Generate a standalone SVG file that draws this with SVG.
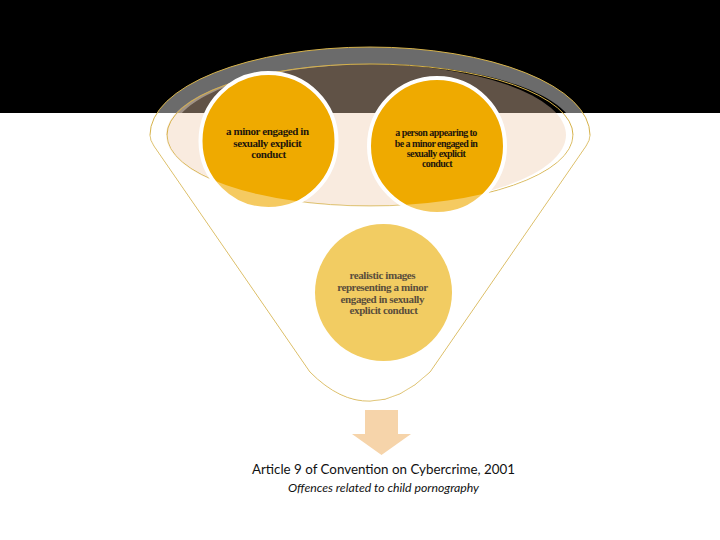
<svg xmlns="http://www.w3.org/2000/svg" width="720" height="540" viewBox="0 0 720 540">
  <style>
    .outline { fill: none; stroke: #D6B24A; stroke-width: 1; }
    .circ { fill: #EFAA00; stroke: #FFFFFF; stroke-width: 4; }
    .lbl { font-family: "Liberation Serif", "Times New Roman", serif; font-weight: bold; text-anchor: middle; fill: #1E160C; }
    .cap { font-family: Lato, "Open Sans", "Liberation Sans", sans-serif; text-anchor: start; fill: #111111; }
  </style>
  <rect x="0" y="0" width="720" height="540" fill="#FFFFFF"/>
  <rect x="0" y="0" width="720" height="113" fill="#000000"/>

  <g id="funnel">
    <path fill="#FFFFFF" fill-opacity="0.42" fill-rule="evenodd"
      d="M150,135 A220,88 0 0 1 590,135 Q590,140 586,146 L430,372 Q400,401 370,401 Q340,402 310,372 L154,146 Q150,140 150,135 Z
         M172,135 A202,71 0 0 1 576,135 A202,71 0 0 1 172,135 Z"/>
    <ellipse cx="366" cy="135" rx="200" ry="71" fill="#F0CDAF" fill-opacity="0.4"/>
    <path class="outline" d="M150,135 A220,88 0 0 1 590,135 Q590,140 586,146 L430,372 Q400,401 370,401 Q340,402 310,372 L154,146 Q150,140 150,135 Z"/>
    <ellipse class="outline" cx="370" cy="135" rx="203" ry="71"/>
  </g>

  <g id="node-minor">
    <circle class="circ" cx="268.5" cy="141" r="68"/>
    <text class="lbl" font-size="11" letter-spacing="-0.4">
      <tspan x="268.5" y="135">a minor engaged in</tspan>
      <tspan x="268.5" y="146.5">sexually explicit</tspan>
      <tspan x="268.5" y="157.5">conduct</tspan>
    </text>
  </g>

  <g id="node-person">
    <circle class="circ" cx="437" cy="146" r="68"/>
    <text class="lbl" font-size="10" letter-spacing="-0.55">
      <tspan x="437" y="136">a person appearing to</tspan>
      <tspan x="437" y="146.5">be a minor engaged in</tspan>
      <tspan x="437" y="157">sexually explicit</tspan>
      <tspan x="437" y="167">conduct</tspan>
    </text>
  </g>

  <g id="funnel-front">
    <path fill="#FFFFFF" fill-opacity="0.38"
      d="M150,135 L167,135 A203,71 0 0 0 573,135 L590,135 Q590,140 586,146 L430,372 Q400,401 370,401 Q340,402 310,372 L154,146 Q150,140 150,135 Z"/>
  </g>

  <g id="node-realistic">
    <circle cx="383.5" cy="292.5" r="68.5" fill="#F2CC62"/>
    <text class="lbl" font-size="11" letter-spacing="-0.4" fill="#5A4E3C" style="fill:#5A4E3C">
      <tspan x="383.5" y="278.5">realistic images</tspan>
      <tspan x="383.5" y="291">representing a minor</tspan>
      <tspan x="383.5" y="302.5">engaged in sexually</tspan>
      <tspan x="383.5" y="314">explicit conduct</tspan>
    </text>
  </g>

  <g id="connectors">
    <polygon points="365,410 398,410 398,434 411,434 381.5,455 352,434 365,434" fill="#F6D4AA"/>
  </g>

  <g id="caption">
    <text class="cap" x="252" y="474" font-size="13.5" textLength="263" lengthAdjust="spacingAndGlyphs">Article 9 of Convention on Cybercrime, 2001</text>
    <text class="cap" x="288" y="492" font-size="11" font-style="italic" textLength="191" lengthAdjust="spacingAndGlyphs">Offences related to child pornography</text>
  </g>
</svg>
